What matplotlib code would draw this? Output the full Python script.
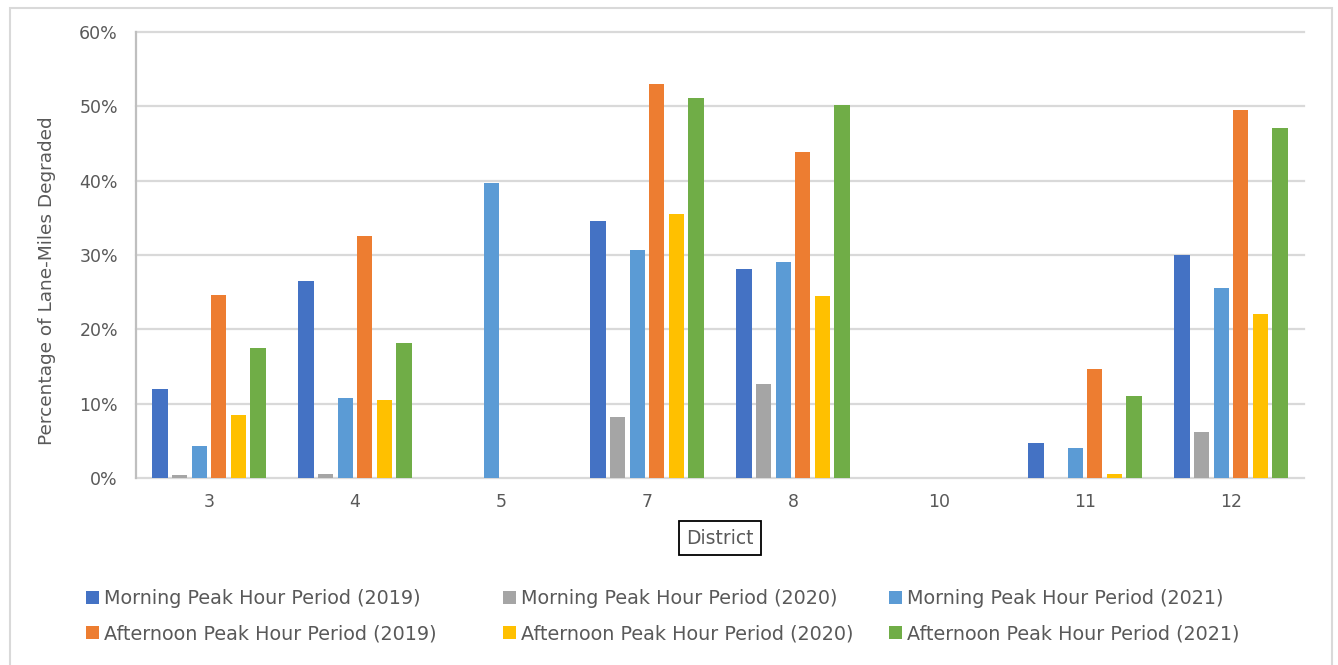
import numpy as np
import matplotlib.pyplot as plt
from matplotlib.patches import Rectangle

plt.rcParams['font.family'] = ['DejaVu Sans']

districts = ['3', '4', '5', '7', '8', '10', '11', '12']

series_names = [
    'Morning Peak Hour Period (2019)',
    'Morning Peak Hour Period (2020)',
    'Morning Peak Hour Period (2021)',
    'Afternoon Peak Hour Period (2019)',
    'Afternoon Peak Hour Period (2020)',
    'Afternoon Peak Hour Period (2021)',
]
colors = ['#4472C4', '#A5A5A5', '#5B9BD5', '#ED7D31', '#FFC000', '#70AD47']

# percent of lane-miles degraded per district
morning_2019 = [12.0, 26.5, 0, 34.6, 28.1, 0, 4.7, 30.0]
morning_2020 = [0.4, 0.6, 0, 8.2, 12.7, 0, 0, 6.2]
morning_2021 = [4.3, 10.8, 39.7, 30.7, 29.1, 0, 4.0, 25.6]
afternoon_2019 = [24.6, 32.6, 0, 53.0, 43.9, 0, 14.7, 49.5]
afternoon_2020 = [8.5, 10.5, 0, 35.5, 24.5, 0, 0.5, 22.1]
afternoon_2021 = [17.5, 18.2, 0, 51.1, 50.2, 0, 11.0, 47.1]

all_series = [morning_2019, morning_2020, morning_2021,
              afternoon_2019, afternoon_2020, afternoon_2021]

W, H = 1338, 665
fig = plt.figure(figsize=(W / 100, H / 100), dpi=100)
ax = fig.add_axes([136 / W, (H - 478) / H, 1168 / W, 446 / H])

text_color = '#595959'
x = np.arange(len(districts))
step = 0.1336
width = 0.106
bars = []
for i, (vals, col) in enumerate(zip(all_series, colors)):
    b = ax.bar(x + (i - 2.5) * step, vals, width, color=col, zorder=3)
    bars.append(b)

ax.set_xlim(-0.5, len(districts) - 0.5)
ax.set_ylim(0, 60)
ax.set_yticks(np.arange(0, 61, 10))
ax.set_yticklabels([f'{v}%' for v in range(0, 61, 10)])
ax.set_xticks(x)
ax.set_xticklabels(districts)
ax.tick_params(axis='both', length=0, labelsize=12.5, colors=text_color)
ax.tick_params(axis='y', pad=13)
ax.tick_params(axis='x', pad=11)

ax.grid(axis='y', color='#d9d9d9', linewidth=1.6, zorder=0)
for gl in ax.get_ygridlines():
    gl.set_clip_on(False)
for s in ['top', 'right', 'bottom']:
    ax.spines[s].set_visible(False)
ax.spines['left'].set_color('#bfbfbf')
ax.spines['left'].set_linewidth(1.6)

fig.text(47 / W, 1 - 281 / H, 'Percentage of Lane-Miles Degraded', rotation=90,
         ha='center', va='center', fontsize=13.3, color=text_color)
fig.text(720 / W, 1 - 538 / H, 'District', ha='center', va='center',
         fontsize=13.5, color=text_color,
         bbox=dict(boxstyle='square,pad=0.4', facecolor='white',
                   edgecolor='black', linewidth=1.3))

# one legend per column: morning entry on top, afternoon below
col_x = [86, 503, 889]
for c in range(3):
    leg = fig.legend([bars[c], bars[c + 3]], [series_names[c], series_names[c + 3]],
                     loc='upper left', bbox_to_anchor=(col_x[c] / W, 1 - 589 / H),
                     frameon=False, fontsize=13.8, labelcolor=text_color,
                     handlelength=0.68, handleheight=0.68, handletextpad=0.28,
                     labelspacing=0.85, borderpad=0, borderaxespad=0)

fig.patches.append(Rectangle((10 / W, -0.01), 1322 / W, (H - 8) / H + 0.01,
                             transform=fig.transFigure, fill=False,
                             edgecolor='#d9d9d9', linewidth=1.5))

fig.savefig('out.png', dpi=100)
